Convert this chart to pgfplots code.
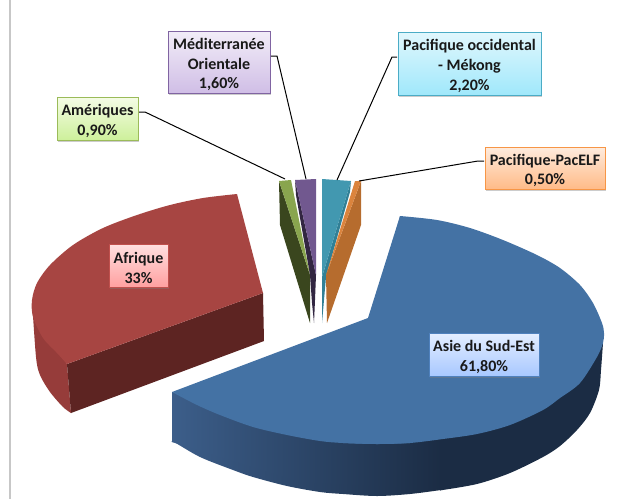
\documentclass[border=0pt]{standalone}
\usepackage{fontspec}
\setmainfont{Carlito}
\usepackage{pgfplots}
\pgfplotsset{compat=1.18}
\usetikzlibrary{shadows}
\definecolor{bluetop}{RGB}{68,114,164}
\definecolor{blueside}{RGB}{60,94,138}
\definecolor{bluedark}{RGB}{27,44,68}
\definecolor{redtop}{RGB}{167,69,66}
\definecolor{redside}{RGB}{150,60,58}
\definecolor{reddark}{RGB}{93,36,34}
\definecolor{greentop}{RGB}{137,165,78}
\definecolor{greendark}{RGB}{58,70,30}
\definecolor{purptop}{RGB}{113,88,143}
\definecolor{purpdark}{RGB}{50,38,65}
\definecolor{tealtop}{RGB}{66,152,176}
\definecolor{tealdark}{RGB}{49,128,150}
\definecolor{orangetop}{RGB}{219,132,61}
\definecolor{orangedark}{RGB}{182,108,46}
\definecolor{purpA}{RGB}{128,100,162}\definecolor{purpB}{RGB}{242,237,248}\definecolor{purpC}{RGB}{208,190,230}
\definecolor{greenA}{RGB}{155,187,89}\definecolor{greenB}{RGB}{245,252,230}\definecolor{greenC}{RGB}{205,240,155}
\definecolor{cyanA}{RGB}{75,172,198}\definecolor{cyanB}{RGB}{225,247,253}\definecolor{cyanC}{RGB}{160,232,251}
\definecolor{orA}{RGB}{247,150,70}\definecolor{orB}{RGB}{254,235,221}\definecolor{orC}{RGB}{255,187,136}
\definecolor{redA}{RGB}{192,80,77}\definecolor{redB}{RGB}{255,224,224}\definecolor{redC}{RGB}{255,160,160}
\definecolor{bluA}{RGB}{79,129,189}\definecolor{bluB}{RGB}{228,238,255}\definecolor{bluC}{RGB}{168,200,255}
\tikzset{
  lab/.style n args={3}{draw=#1,line width=1pt,top color=#2,bottom color=#3,inner sep=0pt,
    drop shadow={shadow xshift=0.6pt,shadow yshift=-1.6pt,opacity=0.4}},
  txt/.style={align=center,inner sep=0pt,yshift=-2.5pt,text=black!90,
    font=\fontsize{16}{19.6}\selectfont\bfseries},
  leader/.style={black,line width=1pt,no marks},
  face/.style={draw=none,fill=#1,no marks},
  arc/.style={draw=none,fill=#1,no marks,smooth}
}
\begin{document}
\begin{tikzpicture}
\begin{axis}[
  scale only axis,
  width=629pt,
  height=499pt,
  xmin=0,xmax=629,
  ymin=0,ymax=499,
  y dir=reverse,
  hide axis,
  clip=false,
]
% left frame line
\addplot[color=black!22,line width=2pt,no marks] coordinates {(9.5,0) (9.5,499)};

% Asie du Sud-Est: side
\addplot[arc=bluedark] coordinates {
  (603,343) (601,370) (599,390) (590,413) (577,430) (560,446) (543,457) (510,473)
  (477,484) (440,490.4)};
\addplot[face=bluedark] coordinates {(603,343) (440,430) (440,490.4) (510,465)};
\addplot[draw=none,left color=blueside,right color=bluedark,no marks,smooth] coordinates {
  (172,442) (174,442) (200,457) (233,470) (253,477) (287,486) (320,492) (343,494)
  (377,496) (410,494) (441,490)};
\addplot[draw=none,left color=blueside,right color=bluedark,no marks] coordinates {
  (172,392) (441,439) (441,490) (300,482) (172,442)};
% Asie du Sud-Est: top
\addplot[arc=bluetop] coordinates {
  (400,216) (437,220) (470,228) (503,240) (537,255) (560,268) (580,285)
  (593,303) (602,323) (604,333) (603,343) (597,357) (580,383) (560,398) (543,410)
  (510,425) (477,434) (443,439) (410,443) (377,444) (343,443)};
\addplot[arc=bluetop] coordinates {
  (410,443) (377,444) (343,443) (320,441)
  (287,435) (253,427) (220,415) (197,405) (172,392)};
\addplot[face=bluetop] coordinates {
  (400,216) (377,444) (172,392) (368,318)};

% Afrique
\addplot[face=redside] coordinates {(32,300) (67,364) (71,413) (45,370)};
\addplot[arc=redside] coordinates {
  (32,300) (36,357) (40,375) (50,392) (63,407) (71,413)};
\addplot[face=reddark] coordinates {
  (67,364) (263,293) (264,341) (71,413)};
\addplot[arc=redtop] coordinates {
  (237,194) (203,198) (170,205) (137,215) (103,228) (73,245) (50,265)
  (37,283) (32,300) (33,317) (43,338) (57,353) (67,364)};
\addplot[face=redtop] coordinates {(67,364) (263,293) (237,194) (170,230) (90,300)};

% Ameriques
\addplot[face=greendark] coordinates {
  (279,181) (310,275) (310,323) (280,225)};
\addplot[face=greentop] coordinates {
  (279,181) (291,180) (310,275)};

% Mediterranee orientale
\addplot[face=purpdark] coordinates {
  (295,180) (296,195) (310,275) (312,303) (314,323) (315,300) (316,275)};
\addplot[face=purptop] coordinates {
  (295,180) (316,179) (316,275)};

% Pacifique occidental
\addplot[face=tealdark] coordinates {
  (351,181) (350,192) (326,277) (322,323) (322,277)};
\addplot[face=tealtop] coordinates {
  (322,179) (351,181) (322,277)};

% Pacifique-PacELF
\addplot[face=orangedark] coordinates {
  (361,181) (361,225) (327,323) (326,275)};
\addplot[face=orangetop] coordinates {
  (355,181) (361,181) (326,275)};

% leaders
\addplot[leader] coordinates {(138,112) (145,112) (285,179)};
\addplot[leader] coordinates {(271,56) (277,56) (306,179)};
\addplot[leader] coordinates {(397,57) (392,57) (337,180)};
\addplot[leader] coordinates {(484,161) (478,161) (359,181)};

% labels
\node[lab={purpA}{purpB}{purpC},minimum width=102pt,minimum height=62pt,label={[txt]center:{Méditerranée\\Orientale\\1,60\%}}] at (axis cs:219,62) {};
\node[lab={greenA}{greenB}{greenC},minimum width=81pt,minimum height=43pt,label={[txt]center:{Amériques\\0,90\%}}] at (axis cs:97.5,118.5) {};
\node[lab={cyanA}{cyanB}{cyanC},minimum width=143pt,minimum height=63pt,label={[txt]center:{Pacifique occidental\\- Mékong\\2,20\%}}] at (axis cs:469.5,63.5) {};
\node[lab={orA}{orB}{orC},minimum width=120pt,minimum height=42pt,label={[txt]center:{Pacifique-PacELF\\0,50\%}}] at (axis cs:545,168) {};
\node[lab={redA}{redB}{redC},minimum width=59pt,minimum height=43pt,label={[txt]center:{Afrique\\33\%}}] at (axis cs:138.5,265.5) {};
\node[lab={bluA}{bluB}{bluC},minimum width=110pt,minimum height=43pt,label={[txt]center:{Asie du Sud-Est\\61,80\%}}] at (axis cs:484,354.5) {};

% title, cut by the top of the page
\node[anchor=base west,inner sep=0pt,font=\fontsize{27.5}{30}\selectfont\bfseries] at (axis cs:17,-4.5) {par région OMS (en part (\%))};
\end{axis}
\pgfresetboundingbox
\path[use as bounding box] (0,0) rectangle (629pt,499pt);
\end{tikzpicture}
\end{document}
